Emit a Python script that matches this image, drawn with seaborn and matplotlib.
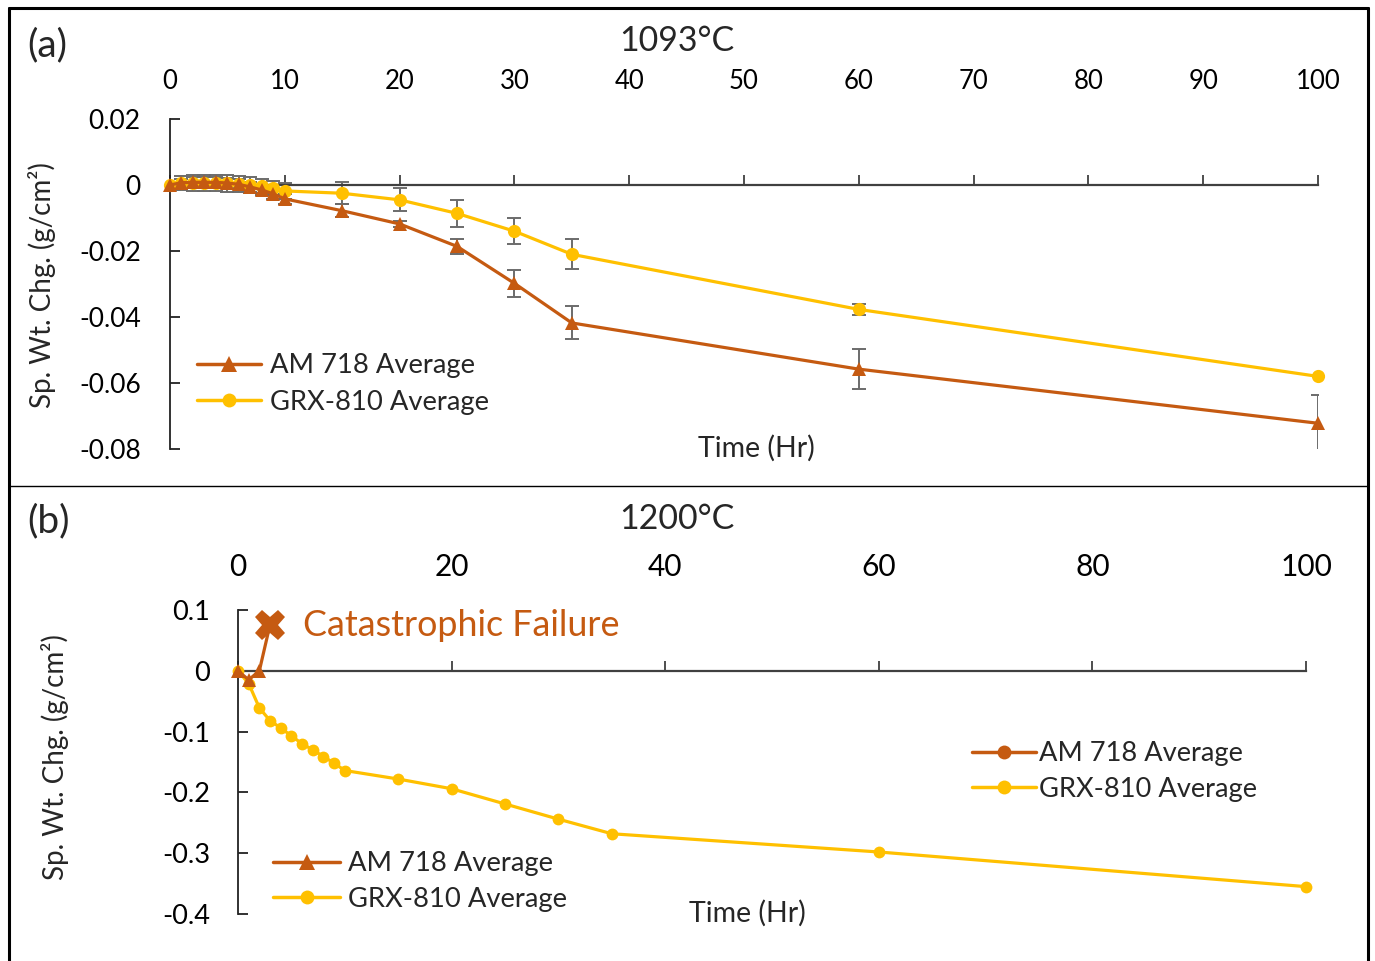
import numpy as np
import pandas as pd
import matplotlib
matplotlib.use("Agg")
import matplotlib.pyplot as plt
import seaborn as sns
from matplotlib.lines import Line2D

sns.set_theme(style="white")
plt.rcParams["font.family"] = ["Lato", "DejaVu Sans"]
plt.rcParams["axes.unicode_minus"] = False

# ---------------- data ----------------
time_a = [0, 1, 2, 3, 4, 5, 6, 7, 8, 9, 10, 15, 20, 25, 30, 35, 60, 100]
am718_a = [0, 0.0007, 0.0008, 0.0008, 0.0008, 0.0006, 0.0002, -0.0006, -0.0015, -0.0027,
           -0.0042, -0.0078, -0.0118, -0.0186, -0.0298, -0.0418, -0.0558, -0.0722]
am718_a_err = [0, 0.001, 0.0015, 0.0015, 0.0015, 0.0015, 0.0015, 0.0015, 0.0015, 0.0015,
               0.0015, 0.002, 0.001, 0.0022, 0.004, 0.005, 0.006, 0.0086]
grx810_a = [0, 0.0006, 0.0006, 0.0006, 0.0006, 0.0005, 0.0003, 0.0, -0.0003, -0.0009,
            -0.0018, -0.0025, -0.0045, -0.0086, -0.014, -0.021, -0.0377, -0.058]
grx810_a_err = [0, 0.002, 0.0025, 0.0025, 0.0025, 0.0025, 0.0025, 0.0025, 0.0022, 0.002,
                0.0025, 0.0033, 0.0035, 0.004, 0.004, 0.0045, 0.0016, 0]

time_b_am = [0, 1, 2, 3]
am718_b = [0, -0.015, 0, 0.076]
time_b = [0, 1, 2, 3, 4, 5, 6, 7, 8, 9, 10, 15, 20, 25, 30, 35, 60, 100]
grx810_b = [0, -0.021, -0.061, -0.082, -0.094, -0.107, -0.12, -0.13, -0.141, -0.152,
            -0.164, -0.178, -0.194, -0.219, -0.244, -0.268, -0.298, -0.355]

yticks_a = [0.02, 0, -0.02, -0.04, -0.06, -0.08]
ytick_labels_a = ["0.02", "0", "-0.02", "-0.04", "-0.06", "-0.08"]
xticks_a = [0, 10, 20, 30, 40, 50, 60, 70, 80, 90, 100]
yticks_b = [0.1, 0, -0.1, -0.2, -0.3, -0.4]
ytick_labels_b = ["0.1", "0", "-0.1", "-0.2", "-0.3", "-0.4"]
xticks_b = [0, 20, 40, 60, 80, 100]

AM_C = "#C55A11"
GRX_C = "#FFC000"
ERR_C = "#6b6b6b"

df_a = pd.DataFrame({"time": time_a, "am": am718_a, "am_err": am718_a_err,
                     "grx": grx810_a, "grx_err": grx810_a_err})
df_b_am = pd.DataFrame({"time": time_b_am, "am": am718_b})
df_b = pd.DataFrame({"time": time_b, "grx": grx810_b})

W, H = 1375, 961
fig = plt.figure(figsize=(W / 100, H / 100), dpi=100)


def fx(px):
    return px / W


def fy(py):
    return 1 - py / H


def style_axes(ax, xt, yt, ytl, xls, yls, ypad, xpad):
    for s in ["top", "right"]:
        ax.spines[s].set_visible(False)
    ax.spines["bottom"].set_position(("data", 0))
    ax.spines["bottom"].set_color("#404040")
    ax.spines["bottom"].set_linewidth(1.6)
    ax.spines["left"].set_color("#222222")
    ax.spines["left"].set_linewidth(1.3)
    ax.set_xticks(xt)
    ax.set_xticklabels([str(v) for v in xt])
    ax.set_yticks(yt)
    ax.set_yticklabels(ytl)
    ax.tick_params(axis="x", direction="in", length=7, width=1.3, color="#404040",
                   bottom=True, top=False, labelbottom=False, labeltop=True,
                   labelsize=xls, pad=xpad, labelcolor="black")
    ax.tick_params(axis="y", direction="in", length=7, width=1.3, color="#222222",
                   left=True, labelsize=yls, pad=ypad, labelcolor="black")
    ax.set_xlabel("")
    ax.set_ylabel("")
    ax.grid(False)
    ax.set_facecolor("none")


# ---------------- panel (a) ----------------
ax1 = fig.add_axes([fx(170), fy(449), fx(1318) - fx(170), fy(119) - fy(449)])
ax1.set_xlim(0, 100)
ax1.set_ylim(-0.08, 0.02)
ax1.errorbar(df_a["time"], df_a["grx"], yerr=df_a["grx_err"], fmt="none", ecolor=ERR_C,
             elinewidth=1.4, capsize=5, capthick=1.4, zorder=2)
ax1.errorbar(df_a["time"], df_a["am"], yerr=df_a["am_err"], fmt="none", ecolor=ERR_C,
             elinewidth=1.4, capsize=5, capthick=1.4, zorder=2)
sns.lineplot(data=df_a, x="time", y="grx", ax=ax1, color=GRX_C, linewidth=2.3,
             marker="o", markersize=9.5, markeredgewidth=0, zorder=3, clip_on=False,
             errorbar=None, legend=False, sort=False)
sns.lineplot(data=df_a, x="time", y="am", ax=ax1, color=AM_C, linewidth=2.3,
             marker="^", markersize=10.5, markeredgewidth=0, zorder=4, clip_on=False,
             errorbar=None, legend=False, sort=False)
style_axes(ax1, xticks_a, yticks_a, ytick_labels_a, 18.5, 19, 21, 18)

h_am_tri = Line2D([], [], color=AM_C, lw=2.5, marker="^", markersize=12, markeredgewidth=0)
h_grx = Line2D([], [], color=GRX_C, lw=2.5, marker="o", markersize=10, markeredgewidth=0)
h_am_circ = Line2D([], [], color=AM_C, lw=2.5, marker="o", markersize=10, markeredgewidth=0)

ax1.legend([h_am_tri, h_grx], ["AM 718 Average", "GRX-810 Average"], loc="center left",
           bbox_to_anchor=(fx(197), fy(384)), bbox_transform=fig.transFigure,
           frameon=False, fontsize=19.7, handlelength=2.35, handletextpad=0.3,
           labelspacing=0.42, borderpad=0, borderaxespad=0)

fig.text(fx(27), fy(45), "(a)", fontsize=28, ha="left", va="center")
fig.text(fx(677), fy(41), "1093°C", fontsize=24.5, ha="center", va="center")
fig.text(fx(756), fy(448), "Time (Hr)", fontsize=20.5, ha="center", va="center")
fig.text(fx(42), fy(285), "Sp. Wt. Chg. (g/cm²)", fontsize=20, ha="center",
         va="center", rotation=90)

# ---------------- panel (b) ----------------
ax2 = fig.add_axes([fx(238), fy(914), fx(1306) - fx(238), fy(610) - fy(914)])
ax2.set_xlim(0, 100)
ax2.set_ylim(-0.4, 0.1)
sns.lineplot(data=df_b, x="time", y="grx", ax=ax2, color=GRX_C, linewidth=2.3,
             marker="o", markersize=8.5, markeredgewidth=0, zorder=3, clip_on=False,
             errorbar=None, legend=False, sort=False)
sns.lineplot(data=df_b_am, x="time", y="am", ax=ax2, color=AM_C, linewidth=2.3,
             marker="^", markersize=10, markeredgewidth=0, markevery=[0, 1, 2],
             zorder=4, clip_on=False, errorbar=None, legend=False, sort=False)
ax2.plot(df_b_am["time"].iloc[-1:], df_b_am["am"].iloc[-1:], linestyle="none",
         marker="X", markersize=22, color=AM_C, markeredgewidth=0, zorder=5, clip_on=False)
ax2.text(6.1, 0.074, "Catastrophic Failure", color=AM_C, fontsize=25.8,
         ha="left", va="center")
style_axes(ax2, xticks_b, yticks_b, ytick_labels_b, 21.5, 19.5, 20, 21)

leg_r = ax2.legend([h_am_circ, h_grx], ["AM 718 Average", "GRX-810 Average"],
                   loc="center left", bbox_to_anchor=(fx(972), fy(771.5)),
                   bbox_transform=fig.transFigure, frameon=False, fontsize=19.6,
                   handlelength=2.35, handletextpad=0.1, labelspacing=0.38,
                   borderpad=0, borderaxespad=0)
ax2.add_artist(leg_r)
ax2.legend([h_am_tri, h_grx], ["AM 718 Average", "GRX-810 Average"], loc="center left",
           bbox_to_anchor=(fx(273), fy(881.5)), bbox_transform=fig.transFigure,
           frameon=False, fontsize=19.7, handlelength=2.45, handletextpad=0.3,
           labelspacing=0.38, borderpad=0, borderaxespad=0)

fig.text(fx(27), fy(521), "(b)", fontsize=28, ha="left", va="center")
fig.text(fx(677), fy(519), "1200°C", fontsize=24.5, ha="center", va="center")
fig.text(fx(747), fy(913), "Time (Hr)", fontsize=20.5, ha="center", va="center")
fig.text(fx(55), fy(757), "Sp. Wt. Chg. (g/cm²)", fontsize=20, ha="center",
         va="center", rotation=90)

# ---------------- frame lines ----------------
frame_kw = dict(transform=fig.transFigure, color="black")
fig.add_artist(Line2D([fx(9), fx(9)], [fy(8), 0], lw=2.2, **frame_kw))
fig.add_artist(Line2D([fx(1368), fx(1368)], [fy(8), 0], lw=2.2, **frame_kw))
fig.add_artist(Line2D([fx(9), fx(1368)], [fy(8), fy(8)], lw=2.2, **frame_kw))
fig.add_artist(Line2D([fx(9), fx(1368)], [fy(486), fy(486)], lw=1.0, **frame_kw))

fig.savefig("out.png", dpi=100, facecolor="white")
